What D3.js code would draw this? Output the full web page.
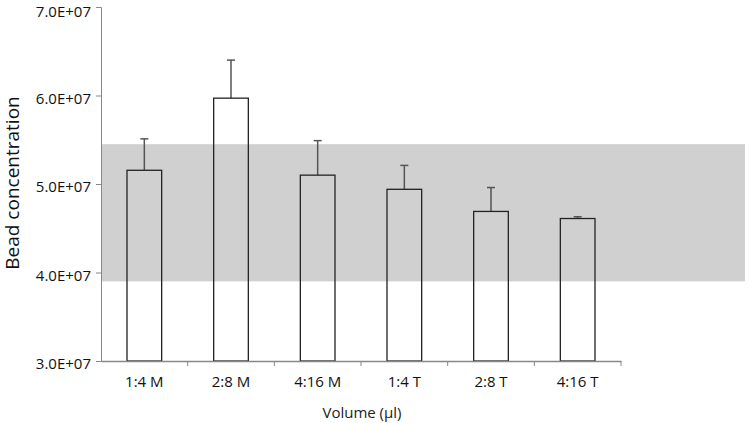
<!DOCTYPE html>
<html><head><meta charset="utf-8">
<script src="https://cdn.jsdelivr.net/npm/d3@7"></script>
<style>body{margin:0;background:#fff}svg{display:block}text{font-family:"Open Sans","Liberation Sans",sans-serif}</style>
</head><body><svg id="c" width="750" height="423"></svg>
<script>
const categories = ["1:4 M","2:8 M","4:16 M","1:4 T","2:8 T","4:16 T"];
const means = [5.155e7, 5.97e7, 5.10e7, 4.94e7, 4.69e7, 4.61e7];
const errorTops = [5.51e7, 6.40e7, 5.49e7, 5.21e7, 4.96e7, 4.63e7];
const rangeBand = [3.9e7, 5.45e7];
const yTicks = [3e7, 4e7, 5e7, 6e7, 7e7];

(function () {
const svg = d3.select("#c");
const mLeft = 101, mRight = 621, mTop = 7, mBottom = 361;
const x = d3.scaleBand().domain(categories).range([mLeft, mRight]).padding(0);
const y = d3.scaleLinear().domain([3e7, 7e7]).range([mBottom, mTop]);
const bw = x.bandwidth() * 0.4;

// shaded band
svg.append("rect")
  .attr("x", mLeft).attr("width", 745 - mLeft)
  .attr("y", y(rangeBand[1])).attr("height", y(rangeBand[0]) - y(rangeBand[1]))
  .attr("fill", "#d0d0d0");

// error bars
const eb = svg.append("g").attr("stroke", "#555").attr("stroke-width", 1.5);
categories.forEach((c, i) => {
  const cx = x(c) + x.bandwidth() / 2;
  eb.append("line").attr("x1", cx).attr("x2", cx).attr("y1", y(means[i])).attr("y2", y(errorTops[i]));
  eb.append("line").attr("x1", cx - 4).attr("x2", cx + 4).attr("y1", y(errorTops[i])).attr("y2", y(errorTops[i]));
});

// bars
svg.append("g").selectAll("rect").data(categories).join("rect")
  .attr("x", d => x(d) + x.bandwidth() / 2 - bw / 2)
  .attr("width", bw)
  .attr("y", (d, i) => y(means[i]))
  .attr("height", (d, i) => y(3e7) - y(means[i]))
  .attr("fill", "none").attr("stroke", "#222").attr("stroke-width", 1.3);

// y axis
const ya = svg.append("g").attr("transform", `translate(${mLeft},0)`)
  .call(d3.axisLeft(y).tickValues(yTicks).tickSize(5).tickFormat(d => (d / 1e7).toFixed(1) + "E+07"));
ya.select(".domain").attr("stroke", "#888");
ya.selectAll(".tick line").attr("stroke", "#888");
ya.selectAll(".tick text").attr("font-size", 15).attr("fill", "#111").attr("x", -10)
  .attr("dy", d => d === 7e7 ? "0.65em" : "0.5em");

// x axis
const xa = svg.append("g").attr("transform", `translate(0,${mBottom})`)
  .call(d3.axisBottom(x).tickSize(0).tickSizeOuter(0));
xa.select(".domain").attr("stroke", "#888").attr("stroke-width", 1.5);
xa.selectAll(".tick line").remove();
xa.selectAll(".tick text").attr("font-size", 15).attr("fill", "#111").attr("y", 0).attr("dy", "1.7em");
// category separator ticks
svg.append("g").selectAll("line").data(categories).join("line")
  .attr("x1", d => x(d) + x.bandwidth()).attr("x2", d => x(d) + x.bandwidth())
  .attr("y1", mBottom).attr("y2", mBottom + 5).attr("stroke", "#888");

svg.append("text").attr("x", 362).attr("y", 418).attr("text-anchor", "middle")
  .attr("font-size", 15).attr("fill", "#222").text("Volume (µl)");
svg.append("text").attr("transform", "translate(19,183) rotate(-90)").attr("text-anchor", "middle")
  .attr("font-size", 19).attr("fill", "#111").text("Bead concentration");
})();
</script></body></html>
